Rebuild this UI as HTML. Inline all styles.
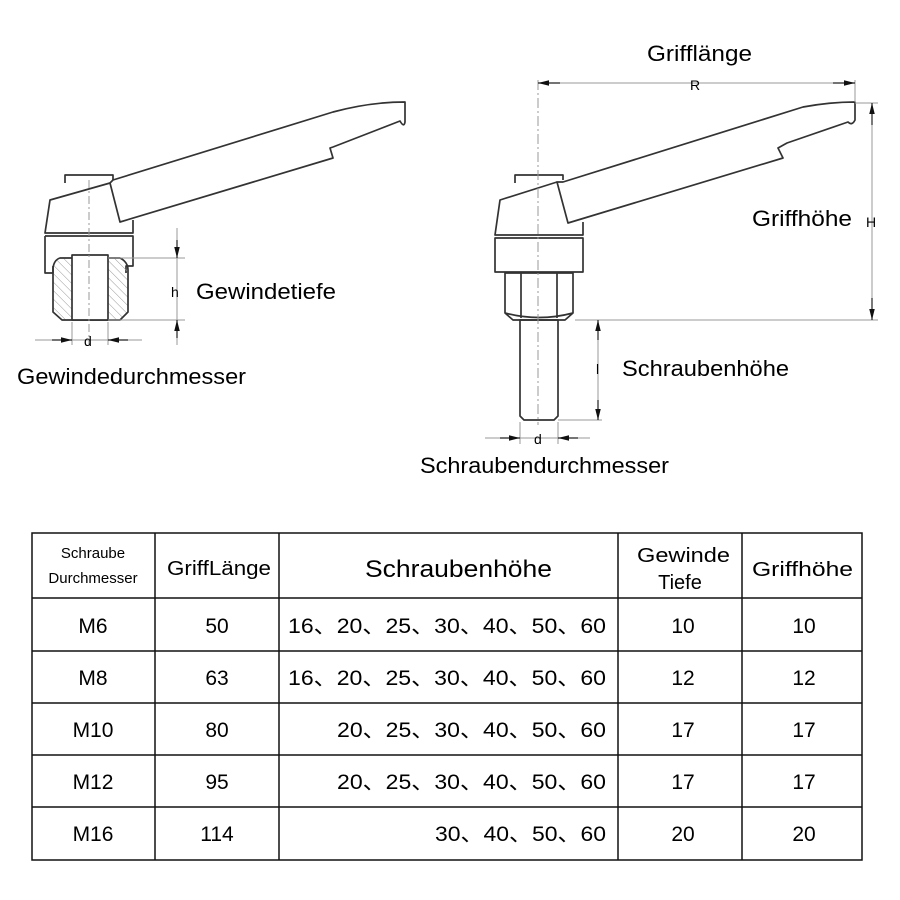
<!DOCTYPE html>
<html><head><meta charset="utf-8"><style>
body{margin:0;background:#fff;width:900px;height:900px;overflow:hidden}
svg{display:block}
text{font-family:"Liberation Sans","Noto Sans CJK SC",sans-serif;fill:#000}
</style></head><body>
<svg width="900" height="900" viewBox="0 0 900 900" xmlns="http://www.w3.org/2000/svg">
<defs>
<marker id="a" viewBox="0 0 10 10" refX="10" refY="5" markerWidth="11" markerHeight="11" markerUnits="userSpaceOnUse" orient="auto-start-reverse"><path d="M0,2.5 L10,5 L0,7.5z" fill="#111"/></marker>
<pattern id="h" width="6" height="6" patternUnits="userSpaceOnUse" patternTransform="rotate(-45)"><line x1="0" y1="0" x2="0" y2="6" stroke="#999" stroke-width="1"/></pattern>
</defs>
<g fill="none" stroke="#333" stroke-width="1.7" stroke-linejoin="round">
<path d="M65,183 L65,175 L113,175 L113,180"/>
<path d="M113,180 L333,112 Q370,102 405,102 L405,122 Q404,128 400,121 L333,147 L330,148 L333,158 L120,222 L110,183 Z"/>
<path d="M110,183 L50,200 L45,233 L133,233 L133,220"/>
<path d="M45,236 L133,236 L133,266 L126,266 L126,273 M45,236 L45,273 L53,273 L53,266"/>
<path d="M60,258 L120,258 Q128,262 128,270 L128,312 L120,320 L62,320 L53,312 L53,268 Q54,260 60,258Z" fill="url(#h)"/>
<rect x="72" y="255" width="36" height="65" fill="#fff"/>
</g>
<g stroke="#999" stroke-width="1" fill="none">
<path d="M89,180 L89,345" stroke-dasharray="8,3,2,3"/>
<path d="M108,258 L185,258 M108,320 L185,320 M177,228 L177,345 M72,322 L72,345 M108,322 L108,345 M35,340 L142,340"/>
</g>
<g stroke="#222" stroke-width="1.2">
<line x1="177" y1="240" x2="177" y2="258" marker-end="url(#a)"/>
<line x1="177" y1="338" x2="177" y2="320" marker-end="url(#a)"/>
<line x1="52" y1="340" x2="72" y2="340" marker-end="url(#a)"/>
<line x1="128" y1="340" x2="108" y2="340" marker-end="url(#a)"/>
</g>
<text x="171" y="297" font-size="14" fill="#444">h</text>
<text x="84" y="346" font-size="14" fill="#444">d</text>
<text x="196" y="299" font-size="22" textLength="140" lengthAdjust="spacingAndGlyphs">Gewindetiefe</text>
<text x="17" y="384" font-size="22" textLength="229" lengthAdjust="spacingAndGlyphs">Gewindedurchmesser</text>

<g fill="none" stroke="#333" stroke-width="1.7" stroke-linejoin="round">
<path d="M515,183 L515,175 L563,175 L563,180"/>
<path d="M563,182 L803,107 Q830,102 855,102 L855,120 Q852,126 848,122 L787,143 L778,148 L783,158 L568,223 L557,182 Z"/>
<path d="M557,182 L500,200 L495,235 L583,235 L583,222"/>
<path d="M495,238 L583,238 L583,272 L495,272 Z"/>
<path d="M505,273 L573,273 L573,313 L565,320 L513,320 L505,313 Z M521,273 L521,318 M557,273 L557,318 M505,313 Q539,322 573,313"/>
<path d="M520,320 L558,320 L558,416 L554,420 L524,420 L520,416 Z"/>
</g>
<g stroke="#999" stroke-width="1" fill="none">
<path d="M538,80 L538,425" stroke-dasharray="10,3,2,3"/>
<path d="M855,80 L855,102 M855,103 L878,103 M575,320 L878,320 M872,103 L872,320 M558,420 L602,420 M598,320 L598,420 M520,422 L520,444 M558,422 L558,444 M485,438 L590,438 M538,83 L855,83"/>
</g>
<g stroke="#222" stroke-width="1.2">
<line x1="560" y1="83" x2="538" y2="83" marker-end="url(#a)"/>
<line x1="833" y1="83" x2="855" y2="83" marker-end="url(#a)"/>
<line x1="872" y1="125" x2="872" y2="103" marker-end="url(#a)"/>
<line x1="872" y1="298" x2="872" y2="320" marker-end="url(#a)"/>
<line x1="598" y1="340" x2="598" y2="320" marker-end="url(#a)"/>
<line x1="598" y1="400" x2="598" y2="420" marker-end="url(#a)"/>
<line x1="500" y1="438" x2="520" y2="438" marker-end="url(#a)"/>
<line x1="578" y1="438" x2="558" y2="438" marker-end="url(#a)"/>
</g>
<text x="690" y="90" font-size="14" fill="#444">R</text>
<text x="866" y="227" font-size="14" fill="#444">H</text>
<text x="596" y="374" font-size="14" fill="#444">l</text>
<text x="534" y="444" font-size="14" fill="#444">d</text>
<text x="647" y="61" font-size="22" textLength="105" lengthAdjust="spacingAndGlyphs">Grifflänge</text>
<text x="752" y="226" font-size="22" textLength="100" lengthAdjust="spacingAndGlyphs">Griffhöhe</text>
<text x="622" y="376" font-size="22" textLength="167" lengthAdjust="spacingAndGlyphs">Schraubenhöhe</text>
<text x="420" y="473" font-size="22" textLength="249" lengthAdjust="spacingAndGlyphs">Schraubendurchmesser</text>

<g stroke="#111" stroke-width="1.5" fill="none">
<rect x="32" y="533" width="830" height="327"/>
<path d="M155,533 V860 M279,533 V860 M618,533 V860 M742,533 V860 M32,598 H862 M32,651 H862 M32,703 H862 M32,755 H862 M32,807 H862"/>
</g>
<g font-size="15" text-anchor="middle">
<text x="93" y="558">Schraube</text>
<text x="93" y="583">Durchmesser</text>
</g>
<text x="167" y="575" font-size="20" textLength="104" lengthAdjust="spacingAndGlyphs">GriffLänge</text>
<text x="365" y="577" font-size="24" textLength="187" lengthAdjust="spacingAndGlyphs">Schraubenhöhe</text>
<text x="637" y="562" font-size="20" textLength="93" lengthAdjust="spacingAndGlyphs">Gewinde</text>
<text x="680" y="589" font-size="20" text-anchor="middle">Tiefe</text>
<text x="752" y="576" font-size="20" textLength="101" lengthAdjust="spacingAndGlyphs">Griffhöhe</text>
<g font-size="21" text-anchor="middle">
<text x="93" y="633">M6</text><text x="217" y="633">50</text><text x="683" y="633">10</text><text x="804" y="633">10</text>
<text x="93" y="685">M8</text><text x="217" y="685">63</text><text x="683" y="685">12</text><text x="804" y="685">12</text>
<text x="93" y="737">M10</text><text x="217" y="737">80</text><text x="683" y="737">17</text><text x="804" y="737">17</text>
<text x="93" y="789">M12</text><text x="217" y="789">95</text><text x="683" y="789">17</text><text x="804" y="789">17</text>
<text x="93" y="841">M16</text><text x="217" y="841">114</text><text x="683" y="841">20</text><text x="804" y="841">20</text>
</g>
<g font-size="21">
<text x="288" y="633" textLength="318" lengthAdjust="spacingAndGlyphs">16、20、25、30、40、50、60</text>
<text x="288" y="685" textLength="318" lengthAdjust="spacingAndGlyphs">16、20、25、30、40、50、60</text>
<text x="337" y="737" textLength="269" lengthAdjust="spacingAndGlyphs">20、25、30、40、50、60</text>
<text x="337" y="789" textLength="269" lengthAdjust="spacingAndGlyphs">20、25、30、40、50、60</text>
<text x="435" y="841" textLength="171" lengthAdjust="spacingAndGlyphs">30、40、50、60</text>
</g>
</svg>
</body></html>
